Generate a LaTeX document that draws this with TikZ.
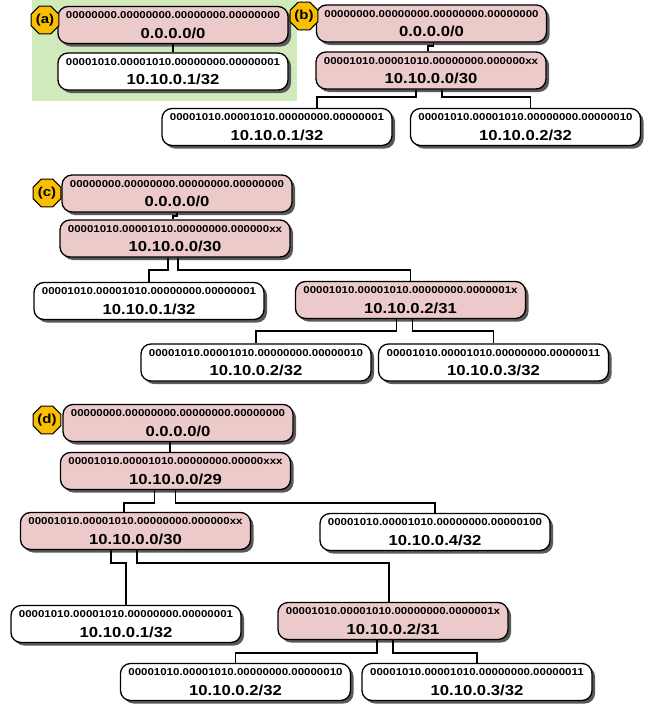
\documentclass[tikz,border=0pt]{standalone}
\usepackage{fontspec}
\usetikzlibrary{shapes.geometric,shadows}
\newfontfamily\boxfont{Liberation Sans}[FakeStretch=1.15]
\definecolor{netpink}{RGB}{236,202,202}
\definecolor{panelgreen}{RGB}{209,234,188}
\definecolor{tagyellow}{RGB}{250,190,0}
\newcommand{\entry}[2]{#1\\{\fontsize{14.5}{19.5}\selectfont #2}}

\begin{document}
\begin{tikzpicture}[x=1pt,y=-1pt]
\tikzstyle{entrybox}=[draw,line width=1.3pt,rounded corners=10pt,minimum width=230pt,minimum height=37pt,inner sep=0pt,align=center,font=\boxfont\bfseries\fontsize{10}{19.5}\selectfont,drop shadow={shadow xshift=3pt,shadow yshift=-3pt,fill=black!65,opacity=1}];
\tikzstyle{netbox}=[entrybox,fill=netpink];
\tikzstyle{hostbox}=[entrybox,fill=white];
\tikzstyle{tagbox}=[draw,line width=1pt,fill=tagyellow,regular polygon,regular polygon sides=8,minimum size=30pt,inner sep=0pt,font=\boxfont\bfseries\fontsize{13}{13}\selectfont];
\tikzstyle{branch}=[line width=1.8pt];

\useasboundingbox (0,0) rectangle (649,704);
\fill[panelgreen] (32,0) rectangle (297,101);

\node[netbox] (a0) at (173,25) {\entry{00000000.00000000.00000000.00000000}{0.0.0.0/0}};
\node[hostbox] (a1) at (173,71.5) {\entry{00001010.00001010.00000000.00000001}{10.10.0.1/32}};

\node[netbox] (b0) at (431.5,23.5) {\entry{00000000.00000000.00000000.00000000}{0.0.0.0/0}};
\node[netbox] (b30) at (431,70.5) {\entry{00001010.00001010.00000000.000000xx}{10.10.0.0/30}};
\node[hostbox] (b1) at (277,127) {\entry{00001010.00001010.00000000.00000001}{10.10.0.1/32}};
\node[hostbox] (b2) at (525.5,127) {\entry{00001010.00001010.00000000.00000010}{10.10.0.2/32}};

\node[netbox] (c0) at (177,193.5) {\entry{00000000.00000000.00000000.00000000}{0.0.0.0/0}};
\node[netbox] (c30) at (175,238.5) {\entry{00001010.00001010.00000000.000000xx}{10.10.0.0/30}};
\node[hostbox] (c1) at (149,301) {\entry{00001010.00001010.00000000.00000001}{10.10.0.1/32}};
\node[netbox] (c31) at (410.5,300) {\entry{00001010.00001010.00000000.0000001x}{10.10.0.2/31}};
\node[hostbox] (c2) at (256,362.5) {\entry{00001010.00001010.00000000.00000010}{10.10.0.2/32}};
\node[hostbox] (c3) at (493.5,362.5) {\entry{00001010.00001010.00000000.00000011}{10.10.0.3/32}};

\node[netbox] (d0) at (178,423) {\entry{00000000.00000000.00000000.00000000}{0.0.0.0/0}};
\node[netbox] (d29) at (175.5,471) {\entry{00001010.00001010.00000000.00000xxx}{10.10.0.0/29}};
\node[netbox] (d30) at (135.5,531) {\entry{00001010.00001010.00000000.000000xx}{10.10.0.0/30}};
\node[hostbox] (d4) at (435,532) {\entry{00001010.00001010.00000000.00000100}{10.10.0.4/32}};
\node[hostbox] (d1) at (126,624) {\entry{00001010.00001010.00000000.00000001}{10.10.0.1/32}};
\node[netbox] (d31) at (393,621) {\entry{00001010.00001010.00000000.0000001x}{10.10.0.2/31}};
\node[hostbox] (d2) at (235.5,682) {\entry{00001010.00001010.00000000.00000010}{10.10.0.2/32}};
\node[hostbox] (d3) at (477,682) {\entry{00001010.00001010.00000000.00000011}{10.10.0.3/32}};

\draw[branch] (a0.south) -- (a1.north);

\draw[branch] ([xshift=2pt]b0.south) -- ++(0,3) -| ([xshift=-3pt]b30.north);
\draw[branch] ([xshift=-15pt]b30.south) -- ++(0,7) -| ([xshift=40pt]b1.north);
\draw[branch] ([xshift=11pt]b30.south) -- ++(0,7) -| ([xshift=5pt]b2.north);

\draw[branch] (c0.south) -- ++(0,3) -| ([xshift=-2pt]c30.north);
\draw[branch] ([xshift=-7pt]c30.south) -- ++(0,12) -| (c1.north);
\draw[branch] ([xshift=3pt]c30.south) -- ++(0,12) -| (c31.north);
\draw[branch] ([xshift=-14pt]c31.south) -- ++(0,12) -| (c2.north);
\draw[branch] ([xshift=2pt]c31.south) -- ++(0,12) -| (c3.north);

\draw[branch] ([xshift=-8pt]d0.south) -- ([xshift=-5.5pt]d29.north);
\draw[branch] ([xshift=-21pt]d29.south) -- ++(0,13) -| ([xshift=-11.5pt]d30.north);
\draw[branch] (d29.south) -- ++(0,13) -| (d4.north);
\draw[branch] ([xshift=-24.5pt]d30.south) -- ++(0,12.5) -| (d1.north);
\draw[branch] ([xshift=1.5pt]d30.south) -- ++(0,12.5) -| ([xshift=-4pt]d31.north);
\draw[branch] ([xshift=-16pt]d31.south) -- ++(0,12.5) -| (d2.north);
\draw[branch] (d31.south) -- ++(0,12.5) -| (d3.north);

\node[tagbox] (ta) at (45,20) {(a)};
\node[tagbox] (tb) at (304,16) {(b)};
\node[tagbox] (tc) at (47,193) {(c)};
\node[tagbox] (td) at (47,420) {(d)};
\end{tikzpicture}
\end{document}
